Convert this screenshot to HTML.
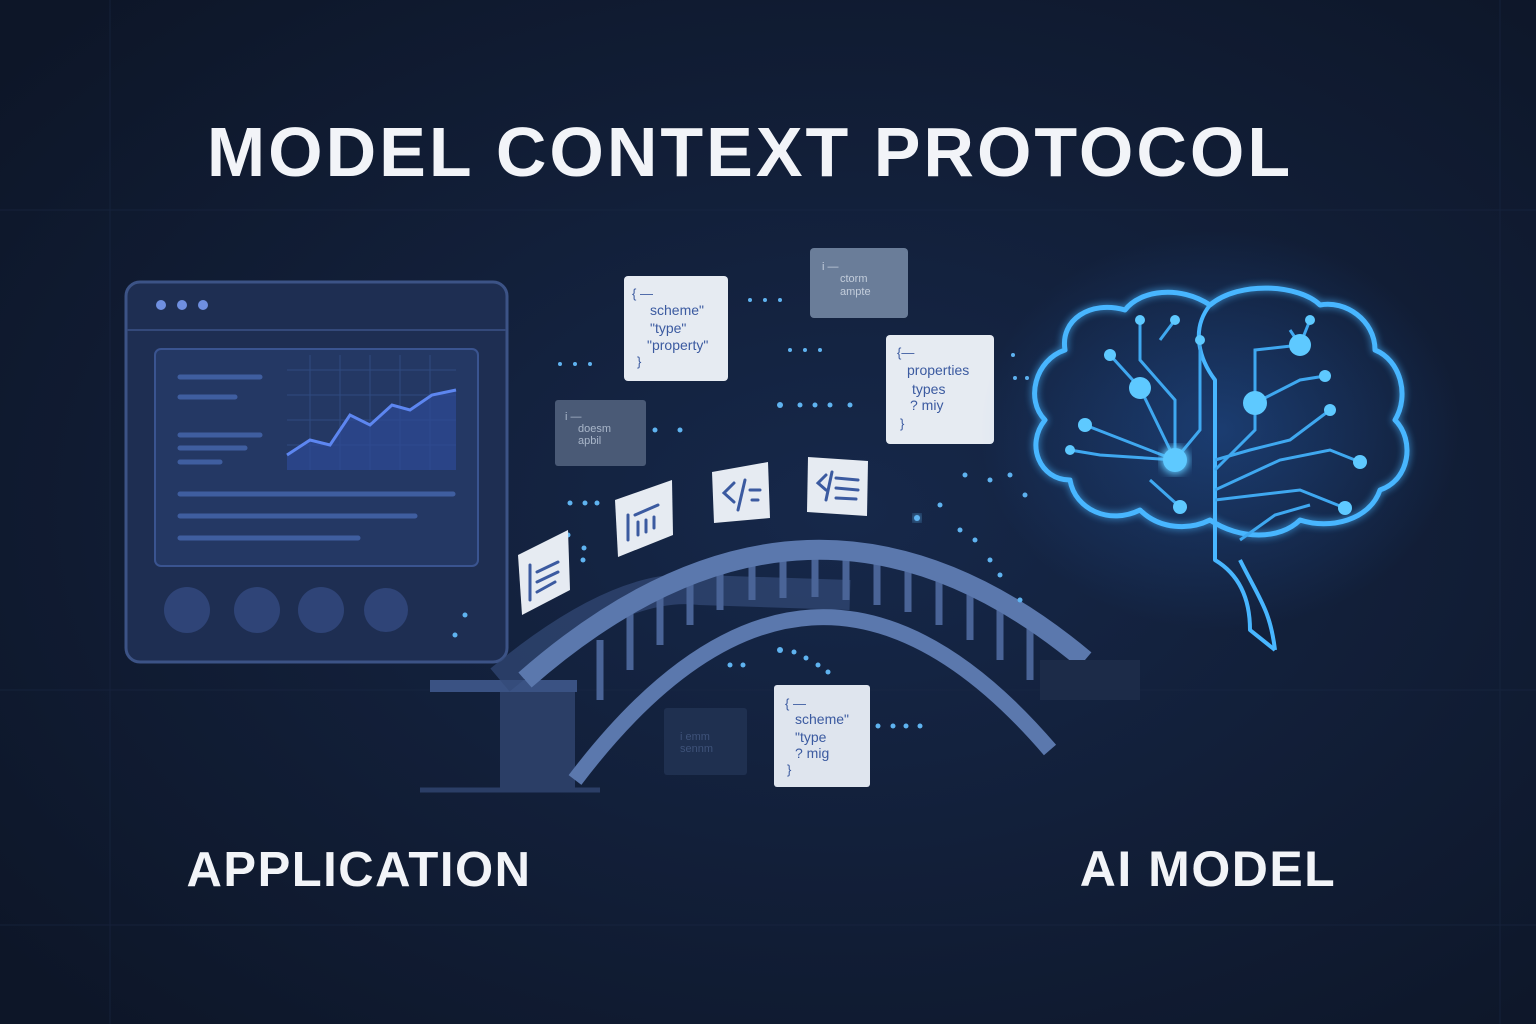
<!DOCTYPE html>
<html><head><meta charset="utf-8"><style>
html,body{margin:0;padding:0;background:#0f1a2e}
svg{display:block}
text{font-family:"Liberation Sans",sans-serif}
</style></head><body>
<svg width="1536" height="1024" viewBox="0 0 1536 1024" xmlns="http://www.w3.org/2000/svg">
<defs>
<radialGradient id="bg" cx="0.55" cy="0.5" r="0.7">
<stop offset="0" stop-color="#16284a"/><stop offset="0.6" stop-color="#111d35"/><stop offset="1" stop-color="#0d1628"/></radialGradient>
<radialGradient id="glow" cx="0.5" cy="0.5" r="0.5">
<stop offset="0" stop-color="#2a6fd0" stop-opacity="0.35"/><stop offset="1" stop-color="#2a6fd0" stop-opacity="0"/></radialGradient>
<filter id="blur"><feGaussianBlur stdDeviation="4"/></filter>
</defs>
<rect width="1536" height="1024" fill="url(#bg)"/>
<g stroke="#1a2844" stroke-width="1" opacity="0.6">
<line x1="0" y1="210" x2="1536" y2="210"/><line x1="0" y1="690" x2="1536" y2="690"/><line x1="0" y1="925" x2="1536" y2="925"/>
<line x1="110" y1="0" x2="110" y2="1024"/><line x1="1500" y1="0" x2="1500" y2="1024"/>
</g>
<text x="750" y="176" text-anchor="middle" font-size="70" font-weight="700" fill="#f2f4f8" letter-spacing="3">MODEL CONTEXT PROTOCOL</text>
<text x="359" y="886" text-anchor="middle" font-size="49" font-weight="700" fill="#f2f4f8" letter-spacing="1.5">APPLICATION</text>
<text x="1208" y="886" text-anchor="middle" font-size="50" font-weight="700" fill="#f2f4f8" letter-spacing="1.5">AI MODEL</text>

<!-- window -->
<rect x="126" y="282" width="381" height="380" rx="14" fill="#1e2e52" stroke="#3c5386" stroke-width="3"/>
<line x1="127" y1="330" x2="506" y2="330" stroke="#34497a" stroke-width="2"/>
<circle cx="161" cy="305" r="5" fill="#6f8fe0"/><circle cx="182" cy="305" r="5" fill="#6f8fe0"/><circle cx="203" cy="305" r="5" fill="#6f8fe0"/>
<rect x="155" y="349" width="323" height="217" rx="6" fill="#243864" stroke="#3a5490" stroke-width="2"/>
<g stroke="#2f4a80" stroke-width="1"><line x1="287" y1="370" x2="456" y2="370"/><line x1="287" y1="395" x2="456" y2="395"/><line x1="287" y1="420" x2="456" y2="420"/><line x1="287" y1="445" x2="456" y2="445"/>
<line x1="310" y1="355" x2="310" y2="470"/><line x1="340" y1="355" x2="340" y2="470"/><line x1="370" y1="355" x2="370" y2="470"/><line x1="400" y1="355" x2="400" y2="470"/><line x1="430" y1="355" x2="430" y2="470"/></g>
<path d="M287 455 L310 440 L330 445 L350 415 L370 425 L392 405 L410 410 L432 395 L456 390 L456 470 L287 470Z" fill="#2e4a96" opacity="0.7"/>
<path d="M287 455 L310 440 L330 445 L350 415 L370 425 L392 405 L410 410 L432 395 L456 390" fill="none" stroke="#5d86f0" stroke-width="3"/>
<g stroke="#3f5ea0" stroke-width="5" stroke-linecap="round">
<line x1="180" y1="377" x2="260" y2="377"/><line x1="180" y1="397" x2="235" y2="397"/><line x1="180" y1="435" x2="260" y2="435"/><line x1="180" y1="448" x2="245" y2="448"/><line x1="180" y1="462" x2="220" y2="462"/>
<line x1="180" y1="494" x2="453" y2="494"/><line x1="180" y1="516" x2="415" y2="516"/><line x1="180" y1="538" x2="358" y2="538"/></g>
<g fill="#2f4477"><circle cx="187" cy="610" r="23"/><circle cx="257" cy="610" r="23"/><circle cx="321" cy="610" r="23"/><circle cx="386" cy="610" r="22"/></g>

<!-- bridge -->
<rect x="500" y="690" width="75" height="100" fill="#2b3e66"/>
<rect x="430" y="680" width="147" height="12" fill="#3a5283"/>
<path d="M420 790 L600 790" stroke="#2b3e66" stroke-width="5"/>
<path d="M500 680 Q620 580 700 590 L850 595" fill="none" stroke="#334a78" stroke-width="30" opacity="0.7"/>
<g stroke="#4a6497" stroke-width="7">
<line x1="600" y1="640" x2="600" y2="700"/><line x1="630" y1="610" x2="630" y2="670"/><line x1="660" y1="590" x2="660" y2="645"/><line x1="690" y1="570" x2="690" y2="625"/><line x1="720" y1="560" x2="720" y2="610"/>
<line x1="752" y1="550" x2="752" y2="600"/><line x1="783" y1="545" x2="783" y2="598"/><line x1="815" y1="544" x2="815" y2="597"/><line x1="846" y1="546" x2="846" y2="600"/><line x1="877" y1="552" x2="877" y2="605"/><line x1="908" y1="558" x2="908" y2="612"/>
<line x1="939" y1="570" x2="939" y2="625"/><line x1="970" y1="585" x2="970" y2="640"/><line x1="1000" y1="600" x2="1000" y2="660"/><line x1="1030" y1="620" x2="1030" y2="680"/></g>
<path d="M525 680 Q810 430 1085 660" fill="none" stroke="#5b78ad" stroke-width="20"/>
<path d="M575 780 Q810 470 1050 750" fill="none" stroke="#5b78ad" stroke-width="16"/>
<rect x="1040" y="660" width="100" height="40" fill="#1c2b48"/>

<!-- particles -->
<g fill="#5fb3f0">
<circle cx="455" cy="635" r="2.5"/><circle cx="465" cy="615" r="2.5"/><circle cx="560" cy="364" r="2"/><circle cx="575" cy="364" r="2"/><circle cx="590" cy="364" r="2"/>
<circle cx="570" cy="503" r="2.5"/><circle cx="585" cy="503" r="2.5"/><circle cx="597" cy="503" r="2.5"/><circle cx="568" cy="535" r="2.5"/><circle cx="584" cy="548" r="2.5"/><circle cx="583" cy="560" r="2.5"/>
<circle cx="655" cy="430" r="2.5"/><circle cx="680" cy="430" r="2.5"/><circle cx="655" cy="492" r="2.5"/><circle cx="665" cy="510" r="2.5"/>
<circle cx="735" cy="475" r="2.5"/><circle cx="748" cy="475" r="2.5"/><circle cx="735" cy="495" r="2.5"/><circle cx="748" cy="495" r="2.5"/>
<circle cx="750" cy="300" r="2"/><circle cx="765" cy="300" r="2"/><circle cx="780" cy="300" r="2"/><circle cx="790" cy="350" r="2"/><circle cx="805" cy="350" r="2"/><circle cx="820" cy="350" r="2"/>
<circle cx="780" cy="405" r="3"/><circle cx="800" cy="405" r="2.5"/><circle cx="815" cy="405" r="2.5"/><circle cx="830" cy="405" r="2.5"/><circle cx="850" cy="405" r="2.5"/>
<circle cx="838" cy="475" r="2.5"/><circle cx="855" cy="480" r="2.5"/>
<circle cx="917" cy="518" r="4" filter="url(#blur)"/><circle cx="917" cy="518" r="3"/>
<circle cx="940" cy="505" r="2.5"/><circle cx="960" cy="530" r="2.5"/><circle cx="975" cy="540" r="2.5"/><circle cx="990" cy="560" r="2.5"/><circle cx="1000" cy="575" r="2.5"/><circle cx="1020" cy="600" r="2.5"/>
<circle cx="965" cy="475" r="2.5"/><circle cx="990" cy="480" r="2.5"/><circle cx="1010" cy="475" r="2.5"/><circle cx="1025" cy="495" r="2.5"/>
<circle cx="1015" cy="378" r="2"/><circle cx="1027" cy="378" r="2"/><circle cx="1013" cy="355" r="2"/>
<circle cx="730" cy="665" r="2.5"/><circle cx="743" cy="665" r="2.5"/><circle cx="780" cy="650" r="3"/><circle cx="794" cy="652" r="2.5"/><circle cx="806" cy="658" r="2.5"/><circle cx="818" cy="665" r="2.5"/><circle cx="828" cy="672" r="2.5"/>
<circle cx="820" cy="726" r="2.5"/><circle cx="830" cy="726" r="2.5"/><circle cx="878" cy="726" r="2.5"/><circle cx="893" cy="726" r="2.5"/><circle cx="906" cy="726" r="2.5"/><circle cx="920" cy="726" r="2.5"/>
</g>

<!-- cards -->
<g font-size="13" fill="#3b5aa0">
<rect x="624" y="276" width="104" height="105" rx="4" fill="#e6ebf2"/>
<text x="632" y="298">{ —</text><text x="650" y="315" font-size="14">scheme"</text><text x="650" y="333" font-size="14">"type"</text><text x="647" y="350" font-size="14">"property"</text><text x="637" y="366">}</text>
<rect x="810" y="248" width="98" height="70" rx="4" fill="#6a7d99"/>
<text x="822" y="270" fill="#c3cddb" font-size="11">i —</text><text x="840" y="282" fill="#c3cddb" font-size="11">ctorm</text><text x="840" y="295" fill="#c3cddb" font-size="11">ampte</text>
<rect x="886" y="335" width="108" height="109" rx="4" fill="#e6ebf2"/>
<text x="897" y="357">{—</text><text x="907" y="375" font-size="14">properties</text><text x="912" y="394" font-size="14">types</text><text x="910" y="410" font-size="14">? miy</text><text x="900" y="428">}</text>
<rect x="555" y="400" width="91" height="66" rx="3" fill="#4a5a76"/>
<text x="565" y="420" fill="#a9b6c9" font-size="11">i —</text><text x="578" y="432" fill="#a9b6c9" font-size="11">doesm</text><text x="578" y="444" fill="#a9b6c9" font-size="11">apbil</text>
<rect x="774" y="685" width="96" height="102" rx="3" fill="#dfe5ee"/>
<text x="785" y="708">{ —</text><text x="795" y="724" font-size="14">scheme"</text><text x="795" y="742" font-size="14">"type</text><text x="795" y="758" font-size="14">? mig</text><text x="787" y="774">}</text>
<rect x="664" y="708" width="83" height="67" rx="3" fill="#1f3050"/>
<text x="680" y="740" fill="#3e5279" font-size="11">i emm</text><text x="680" y="752" fill="#3e5279" font-size="11">sennm</text>
</g>
<g stroke="#3b5aa0" stroke-width="3" stroke-linecap="round">
<path d="M518 555 L568 530 L570 590 L522 615Z" fill="#e6ebf2" stroke="none"/>
<line x1="530" y1="565" x2="530" y2="600"/><line x1="537" y1="572" x2="558" y2="562"/><line x1="537" y1="582" x2="558" y2="572"/><line x1="537" y1="592" x2="555" y2="582"/>
<path d="M615 500 L672 480 L673 535 L618 557Z" fill="#e6ebf2" stroke="none"/>
<line x1="628" y1="515" x2="628" y2="540"/><line x1="635" y1="515" x2="658" y2="505"/><line x1="638" y1="522" x2="638" y2="535"/><line x1="646" y1="520" x2="646" y2="532"/><line x1="654" y1="517" x2="654" y2="528"/>
<path d="M712 472 L768 462 L770 518 L714 523Z" fill="#e6ebf2" stroke="none"/>
<polyline points="734,483 724,493 734,502" fill="none"/><line x1="745" y1="480" x2="738" y2="510"/><line x1="750" y1="490" x2="760" y2="490"/><line x1="752" y1="500" x2="758" y2="500"/>
<path d="M808 457 L868 461 L867 516 L807 512Z" fill="#e6ebf2" stroke="none"/>
<polyline points="826,475 818,483 826,490" fill="none"/><line x1="832" y1="472" x2="826" y2="500"/><line x1="836" y1="478" x2="858" y2="480"/><line x1="836" y1="488" x2="858" y2="490"/><line x1="836" y1="498" x2="856" y2="499"/>
</g>

<!-- brain -->
<ellipse cx="1220" cy="430" rx="240" ry="200" fill="url(#glow)"/>
<g fill="none" stroke="#48b6ff" stroke-width="5" stroke-linejoin="round">
<path filter="url(#blur)" opacity="0.8" d="M1210 305 C1180 285 1140 290 1125 310 C1090 300 1060 320 1065 350 C1035 360 1025 400 1045 420 C1025 445 1040 480 1070 480 C1075 510 1110 525 1140 510 C1160 530 1190 530 1210 520 C1240 540 1280 540 1300 520 C1330 530 1370 520 1380 490 C1410 480 1415 440 1395 420 C1410 395 1400 360 1375 350 C1375 320 1345 300 1320 305 C1300 285 1240 280 1210 305Z"/>
<path d="M1210 305 C1180 285 1140 290 1125 310 C1090 300 1060 320 1065 350 C1035 360 1025 400 1045 420 C1025 445 1040 480 1070 480 C1075 510 1110 525 1140 510 C1160 530 1190 530 1210 520 C1240 540 1280 540 1300 520 C1330 530 1370 520 1380 490 C1410 480 1415 440 1395 420 C1410 395 1400 360 1375 350 C1375 320 1345 300 1320 305 C1300 285 1240 280 1210 305Z"/>
<path d="M1210 305 C1190 330 1200 360 1215 380 L1215 520 L1215 560 C1240 575 1250 600 1250 630 L1275 650" stroke-width="4"/>
<path d="M1240 560 C1260 600 1270 610 1275 650" stroke-width="4"/>
</g>
<g fill="none" stroke="#3fa8f0" stroke-width="3">
<path d="M1175 460 L1175 400 L1140 360 L1140 320"/><path d="M1175 460 L1200 430 L1200 340"/><path d="M1175 460 L1140 388 L1110 355"/>
<path d="M1215 470 L1255 430 L1255 350 L1300 345"/><path d="M1255 403 L1300 380 L1325 376"/><path d="M1215 460 L1250 450 L1290 440 L1330 410"/><path d="M1175 460 L1085 425"/><path d="M1175 460 L1100 455 L1070 450"/>
<path d="M1215 490 L1280 460 L1330 450 L1360 462"/><path d="M1215 500 L1300 490 L1345 508"/><path d="M1240 540 L1275 515 L1310 505"/><path d="M1150 480 L1180 507"/><path d="M1290 330 L1300 345 L1310 320"/><path d="M1160 340 L1175 320"/>
</g>
<g fill="#5ec9ff">
<circle cx="1175" cy="460" r="14" filter="url(#blur)"/><circle cx="1175" cy="460" r="12"/>
<circle cx="1255" cy="403" r="12"/><circle cx="1140" cy="388" r="11"/><circle cx="1300" cy="345" r="11"/>
<circle cx="1110" cy="355" r="6"/><circle cx="1085" cy="425" r="7"/><circle cx="1070" cy="450" r="5"/><circle cx="1140" cy="320" r="5"/><circle cx="1200" cy="340" r="5"/>
<circle cx="1325" cy="376" r="6"/><circle cx="1330" cy="410" r="6"/><circle cx="1360" cy="462" r="7"/><circle cx="1345" cy="508" r="7"/><circle cx="1180" cy="507" r="7"/><circle cx="1310" cy="320" r="5"/><circle cx="1175" cy="320" r="5"/>
</g>
</svg>
</body></html>
